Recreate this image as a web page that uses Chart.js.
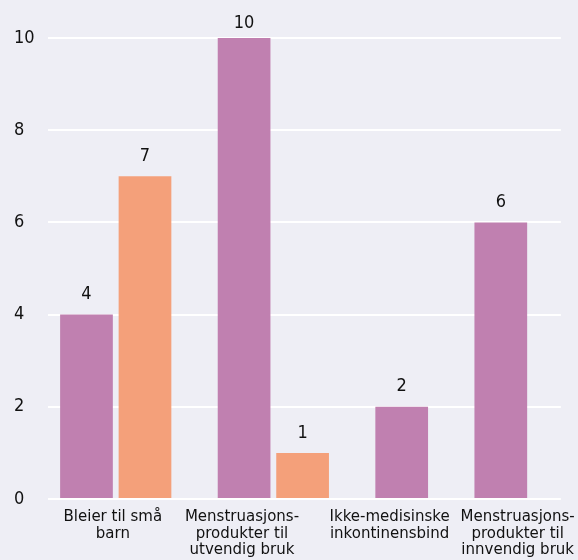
<!DOCTYPE html>
<html>
<head>
<meta charset="utf-8">
<script src="https://cdn.jsdelivr.net/npm/chart.js@4"></script>
<style>
    html, body { margin: 0; padding: 0; background: #eeeef5; }
    #wrap { width: 578px; height: 560px; position: relative; }
</style>
</head>
<body>
<div id="wrap"><canvas id="barChart"></canvas></div>
<script>
const categories = [
    ["Bleier til små", "barn"],
    ["Menstruasjons-", "produkter til", "utvendig bruk"],
    ["Ikke-medisinske", "inkontinensbind"],
    ["Menstruasjons-", "produkter til", "innvendig bruk"],
];
const purpleValues = [4, 10, 2, 6];
const orangeValues = [7, 1, null, null];
const yTicks = [0, 2, 4, 6, 8, 10];

const seriesList = [purpleValues, orangeValues];
const seriesColors = ["#c080b0", "#f4a07a"];
const FONT = "'DejaVu Sans Condensed', 'DejaVu Sans', sans-serif";
const LABEL_FONT = "'DejaVu Sans', sans-serif";

// bars are packed one after another, groups split by a wider gap
const BAR_STEP = 1.11;
const GROUP_GAP = 0.88;
// where the category names sit on the x axis (same units as the bars)
const labelAnchors = [1.0, 3.45, 6.25, 8.68];

const points = seriesList.map(() => []);
let cursor = 0;
categories.forEach((cat, i) => {
    seriesList.forEach((values, s) => {
        if (values[i] === null) return;
        points[s].push({ x: cursor + 0.5, y: values[i] });
        cursor += BAR_STEP;
    });
    cursor = cursor - BAR_STEP + 1 + GROUP_GAP;
});

// values printed above each bar (kept from running off the top)
const valueLabels = {
    id: "valueLabels",
    afterDatasetsDraw(chart) {
        const ctx = chart.ctx;
        const minY = chart.chartArea.top - 15;
        ctx.save();
        ctx.font = "18px " + FONT;
        ctx.fillStyle = "#111";
        ctx.textAlign = "center";
        ctx.textBaseline = "middle";
        chart.data.datasets.forEach((ds, i) => {
            chart.getDatasetMeta(i).data.forEach((bar, j) => {
                ctx.fillText(ds.data[j].y, bar.x, Math.max(bar.y - 20, minY));
            });
        });
        ctx.restore();
    },
};

document.addEventListener("DOMContentLoaded", function () {
    const ctx = document.getElementById("barChart").getContext("2d");
    new Chart(ctx, {
        type: "bar",
        data: {
            datasets: points.map((pts, s) => ({
                data: pts,
                backgroundColor: seriesColors[s],
                borderWidth: 0,
                grouped: false,
                categoryPercentage: 1,
                barPercentage: 1 / BAR_STEP,
            })),
        },
        options: {
            responsive: true,
            maintainAspectRatio: false,
            animation: false,
            layout: {
                padding: { top: 38, right: 15, left: 14, bottom: 0 },
            },
            scales: {
                x: {
                    type: "linear",
                    min: -0.23,
                    max: 9.5,
                    offset: false,
                    bounds: "data",
                    grid: { display: false, offset: false },
                    border: { display: false },
                    afterBuildTicks: (scale) => {
                        scale.ticks = labelAnchors.map((v) => ({ value: v }));
                    },
                    afterFit: (scale) => {
                        scale.height = 61;
                    },
                    ticks: {
                        autoSkip: false,
                        maxRotation: 0,
                        padding: 2,
                        color: "#111",
                        font: { family: LABEL_FONT, size: 15, lineHeight: "16.5px" },
                        callback: (value) => {
                            const i = labelAnchors.indexOf(value);
                            return i >= 0 ? categories[i] : "";
                        },
                    },
                },
                y: {
                    min: 0,
                    max: 10,
                    grid: { color: "#ffffff", lineWidth: 2, drawTicks: false },
                    border: { display: false },
                    afterBuildTicks: (scale) => {
                        scale.ticks = yTicks.map((v) => ({ value: v }));
                    },
                    afterFit: (scale) => {
                        scale.width = 34;
                    },
                    ticks: {
                        crossAlign: "far",
                        color: "#111",
                        font: { family: FONT, size: 18 },
                    },
                },
            },
            plugins: {
                legend: { display: false },
                tooltip: { enabled: false },
            },
        },
        plugins: [valueLabels],
    });
});
</script>
</body>
</html>
